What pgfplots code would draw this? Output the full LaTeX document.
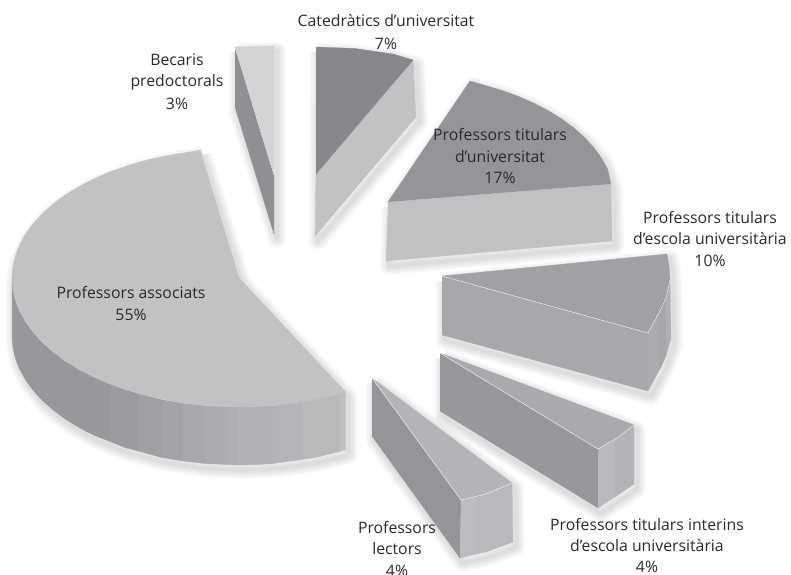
\documentclass[border=0pt]{standalone}
\usepackage{pgfplots}
\usepackage{pgfplotstable}
\usepackage{fontspec}
\setmainfont{Open Sans}
\pgfplotsset{compat=1.18}
\definecolor{txt}{HTML}{2B2A2B}
\newcommand\C[1]{\definecolor{c#1}{HTML}{#1}}
\C{D2D3D5}\C{8F9093}\C{C1C2C4}\C{87888B}\C{C0C1C3}\C{939598}\C{A7A8AB}\C{ABACAF}\C{A6A7AA}\C{AFB0B3}\C{A0A1A4}\C{97989B}\C{B9BABC}\C{B2B3B6}\C{A9AAAD}\C{BCBDC0}\C{B8B9BC}\C{B3B4B7}\C{9A9B9E}\C{9FA0A3}\C{A3A4A7}\C{AEAFB2}\C{B1B2B5}\C{B4B5B8}\C{B8B9BB}\C{BDBEC0}
\newcommand\F[2]{\addplot[fill=c#1,draw=c#1,line width=0.3pt] coordinates {#2};}
\newcommand\E[1]{\addplot[draw=white,line width=0.35pt] coordinates {#1};}
\newcommand\SL[2]{\addplot[draw=black,draw opacity=0.024,fill=none,line width=#2,line join=round] table[x expr=\thisrow{x}+3,y expr=\thisrow{y}+5] {#1};}
\newcommand\SH[1]{\SL{#1}{3pt}\SL{#1}{6pt}\SL{#1}{9pt}\SL{#1}{12pt}\SL{#1}{15pt}\SL{#1}{18pt}}
\newcommand\LB[2]{\node[font=\fontsize{15.8}{22}\selectfont,text=txt,align=center,inner sep=0pt] at (axis cs:#1) {#2};}
\pgfplotstableread{
x y
235 47
274 46
274 234
235 107
235 47
}\silA
\pgfplotstableread{
x y
316 47
355 48.5
393 54
413 60
416 117
315 236
316 47
}\silB
\pgfplotstableread{
x y
388 202
470 81
501.5 90.3
533.9 103.2
561.9 119.1
584.6 137.5
601.3 157.9
611 184
612 241
386 261
388 202
}\silC
\pgfplotstableread{
x y
442 276
667 254
669 266
670 280
671 338
665.6 356
661 367
655 378
648 391
442 335
442 276
}\silD
\pgfplotstableread{
x y
440 353
634 425
634 484
598 508
440 411
440 353
}\silE
\pgfplotstableread{
x y
372 378
512 483
513 542
486 552
460 558
372 436
372 378
}\silF
\pgfplotstableread{
x y
200 150
239 278
345.5 392
345.5 450
316.6 457.2
278.4 463
239 465
199.6 463
161.4 457.2
125.5 447.7
93.1 434.8
65.1 418.9
42.4 400.5
25.7 380.1
15.4 358.4
12 336
12 278
15.4 255.6
25.7 233.9
42.4 213.5
65.1 195.1
93.1 179.2
125.5 166.3
161.4 156.8
200 150
}\silG
\begin{document}
\begin{tikzpicture}
\path[use as bounding box,clip] (0,0) rectangle (791pt,574pt);
\begin{axis}[scale only axis,width=791pt,height=574pt,xmin=0,xmax=791,ymin=0,ymax=574,y dir=reverse,hide axis,clip=false]
\SH{\silA}\SH{\silB}\SH{\silC}\SH{\silD}\SH{\silE}\SH{\silF}\SH{\silG}
% Becaris
\F{D2D3D5}{(235,47)(274,46)(274,175)}
\F{8F9093}{(235,47)(274,175)(274,234)(235,107)}
\E{(235,47)(274,175)}
% Catedratics
\F{C1C2C4}{(413,60)(416,117)(315,236)(316,174)}
\F{87888B}{(316,47)(355,48.5)(393,54)(413,60)(316,174)}
% Titulars universitat
\F{C0C1C3}{(388,202)(611,184)(612,241)(386,261)}
\F{939598}{(388,202)(470,81)(483.9,85.1)(501.5,90.3)(518.2,96.3)(533.9,103.2)(548.5,110.8)(561.9,119.1)(574,128)(584.6,137.5)(593.7,147.5)(601.3,157.9)(607.3,168.6)(611,184)}
% Escola
\F{A7A8AB}{(442,276)(648,333)(648,391)(442,335)}
\F{ABACAF}{(648,333)(655,320)(658,314)(658,372)(655,378)(648,391)}
\F{A6A7AA}{(658,314)(661,309)(666,298)(666,356)(661,367)(658,372)}
\F{AFB0B3}{(666,298)(670,280)(671,338)(666,356)}
\F{A0A1A4}{(442,276)(667,254)(669,266)(670,280)(666,298)(661,309)(655,320)(648,333)}
\E{(442,276)(648,333)(655,320)(661,309)(666,298)(670,280)}
% Interins
\F{97989B}{(440,353)(598,449)(598,508)(440,411)}
\F{B9BABC}{(598,449)(615,439)(615,497)(598,508)}
\F{B2B3B6}{(615,439)(634,425)(634,484)(615,497)}
\F{A9AAAD}{(440,353)(634,425)(617,438)(598,449)}
\E{(440,353)(598,449)(617,438)(634,425)}
% Lectors
\F{939598}{(372,378)(461,500)(460,558)(372,436)}
\F{BCBDC0}{(461,500)(476,496)(476,554)(460,558)}
\F{B8B9BC}{(476,496)(486,494)(512,483)(513,542)(486,552)(476,554)}
\F{B3B4B7}{(372,378)(512,483)(486,494)(461,500)}
\E{(372,378)(461,500)(486,494)(512,483)}
% Associats side
\F{97989B}{(12,278)(12,336)(12.9,347.2)(15.4,358.4)(19.7,369.4)(25.7,380.1)(33.3,390.5)(42.4,400.5)(53.1,410)(65.1,418.9)(78.5,427.2)(93.1,434.8)(110,441.5)(110,383.5)(93.1,376.8)(65.1,360.9)(42.4,342.5)(25.7,322.1)(15.4,300.4)}
\F{9A9B9E}{(110,383.5)(110,441.5)(125.5,447.7)(138,451)(138,393)}
\F{9FA0A3}{(138,393)(138,451)(162,457.5)(162,399.5)}
\F{A3A4A7}{(162,399.5)(162,457.5)(183,461)(183,403)}
\F{A7A8AB}{(183,403)(183,461)(205,463.5)(205,405.5)}
\F{ABACAF}{(205,405.5)(205,463.5)(227,464.5)(227,406.5)}
\F{AEAFB2}{(227,406.5)(227,464.5)(238,465)(238,407)}
\F{B1B2B5}{(238,407)(238,465)(258.8,464.5)(273,463.5)(273,405.5)}
\F{B4B5B8}{(273,405.5)(273,463.5)(302,459.5)(302,401.5)}
\F{B8B9BB}{(302,401.5)(302,459.5)(316.6,457.2)(340,451.5)(340,393.5)}
\F{BDBEC0}{(340,393.5)(340,451.5)(345.5,450)(345.5,392)}
\F{C1C2C4}{(200,150)(239,278)(345.5,392)(334.9,394.9)(316.6,399.2)(297.8,402.6)(278.4,405)(258.8,406.5)(239,407)(219.2,406.5)(199.6,405)(180.2,402.6)(161.4,399.2)(143.1,394.9)(125.5,389.7)(108.8,383.7)(93.1,376.8)(78.5,369.2)(65.1,360.9)(53.1,352)(42.4,342.5)(33.3,332.5)(25.7,322.1)(19.7,311.4)(15.4,300.4)(12.9,289.2)(12,278)(12.9,266.8)(15.4,255.6)(19.7,244.6)(25.7,233.9)(33.3,223.5)(42.4,213.5)(53.1,204)(65.1,195.1)(78.5,186.8)(93.1,179.2)(108.8,172.3)(125.5,166.3)(143.1,161.1)(161.4,156.8)(180.2,153.4)}
% Labels
\LB{386,21}{Catedràtics d’universitat}
\LB{386,44}{7\%}
\LB{177,60}{Becaris}
\LB{177,82}{predoctorals}
\LB{177,104}{3\%}
\LB{500,135}{Professors titulars}
\LB{500,157}{d’universitat}
\LB{500,178}{17\%}
\LB{710,218}{Professors titulars}
\LB{710,239}{d’escola universitària}
\LB{710,261}{10\%}
\LB{131,293}{Professors associats}
\LB{131,315}{55\%}
\LB{647,525}{Professors titulars interins}
\LB{647,546}{d’escola universitària}
\LB{647,567}{4\%}
\LB{397,528}{Professors}
\LB{397,549}{lectors}
\LB{397,571}{4\%}
\end{axis}
\end{tikzpicture}
\end{document}
